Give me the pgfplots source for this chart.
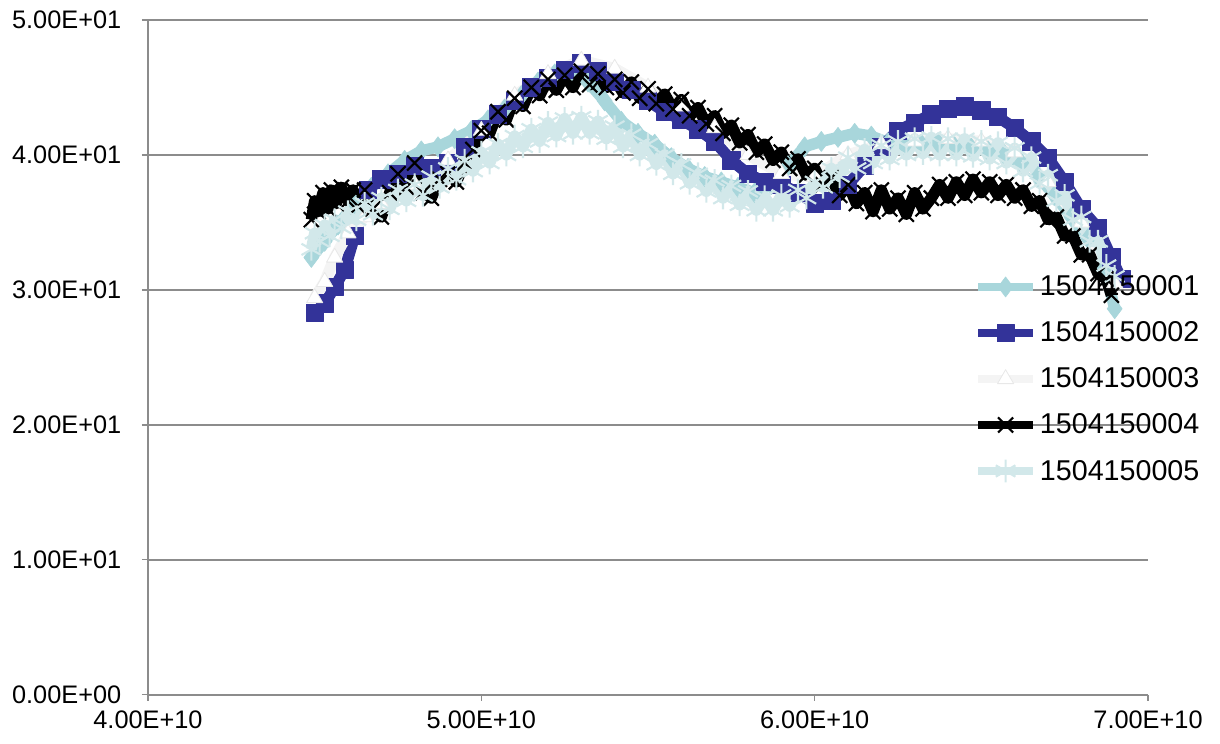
\documentclass[border=0pt]{standalone}
\usepackage{fontspec}
\setmainfont{Liberation Sans}
\usepackage{pgfplots}
\pgfplotsset{compat=1.18}

\definecolor{sone}{RGB}{168,214,219}
\definecolor{stwo}{RGB}{51,51,153}
\definecolor{sthree}{RGB}{244,244,244}
\definecolor{sfive}{RGB}{210,232,234}
\definecolor{gridgray}{RGB}{140,140,140}

\begin{document}
\begin{tikzpicture}
\begin{axis}[
    scale only axis,
    width=750pt, height=506pt,
    xmin=4e10, xmax=7e10, ymin=0, ymax=50,
    axis lines=left,
    axis line style={-, gridgray, line width=1.1pt},
    xtick={4e10,5e10,6e10,7e10},
    xticklabels={4.00E+10,5.00E+10,6.00E+10,7.00E+10},
    ytick={0,10,20,30,40,50},
    yticklabels={0.00E+00,1.00E+01,2.00E+01,3.00E+01,4.00E+01,5.00E+01},
    scaled ticks=false,
    tick align=outside,
    major tick length=4.5pt,
    tick style={gridgray, line width=1.1pt},
    ymajorgrids,
    major grid style={gridgray, line width=1.3pt},
    tick label style={font=\fontsize{19}{22}\selectfont},
    /pgf/number format/assume math mode=true,
    xticklabel style={yshift=-4pt},
    yticklabel style={xshift=-12pt},
    clip=false,
    legend cell align=left,
    legend style={draw=none, fill=none, at={(0.826,0.625)}, anchor=north west,
        font=\fontsize{21.5}{24}\selectfont, row sep=14pt, inner sep=0pt},
    legend image code/.code={\draw[line width=6pt, mark repeat=2, mark phase=2]
        plot coordinates {(0cm,0cm) (0.72cm,0cm) (1.45cm,0cm)};},
    every axis plot/.append style={line width=8.5pt, line join=round},
]
% room round the picture
\path (rel axis cs:0,0) -- ++(-111pt,-37pt);
\path (rel axis cs:1,1) -- ++(54pt,15pt);
% 1504150001
\addplot[sone, mark=diamond*, mark size=7.5pt,
    mark options={solid, fill=sone, draw=sone, line width=0.5pt}] coordinates {
(4.49e10,32.4) (4.53e10,33.6) (4.57e10,34.8) (4.62e10,36.4) (4.67e10,37.6)
(4.72e10,38.6) (4.77e10,39.6) (4.82e10,40.3) (4.87e10,40.6) (4.92e10,41.2)
(4.97e10,41.8) (5.02e10,42.6) (5.07e10,43.4) (5.12e10,44.4) (5.17e10,45.4)
(5.22e10,46.0) (5.27e10,46.2) (5.32e10,45.4) (5.37e10,44.0) (5.42e10,42.5)
(5.47e10,41.6) (5.52e10,40.8) (5.57e10,39.8) (5.62e10,39.0) (5.67e10,38.4)
(5.72e10,38.0) (5.77e10,37.6) (5.82e10,37.2) (5.87e10,37.8) (5.92e10,39.2)
(5.97e10,40.6) (6.02e10,41.0) (6.07e10,41.3) (6.12e10,41.6) (6.17e10,41.4)
(6.22e10,40.9) (6.27e10,40.7) (6.32e10,40.8) (6.37e10,40.9) (6.42e10,40.6)
(6.47e10,40.5) (6.52e10,40.3) (6.57e10,40.0) (6.62e10,39.4) (6.67e10,38.4)
(6.72e10,37.0) (6.77e10,35.4) (6.82e10,33.8) (6.87e10,31.6) (6.90e10,28.6)
};
\addlegendentry{1504150001}
% 1504150002
\addplot[stwo, mark=square*, mark size=6.5pt,
    mark options={solid, fill=stwo, draw=stwo, line width=0.5pt}] coordinates {
(4.50e10,28.3) (4.53e10,29.0) (4.56e10,30.2) (4.59e10,31.5) (4.62e10,34.0)
(4.66e10,37.4) (4.70e10,38.2) (4.75e10,38.6) (4.80e10,39.2) (4.85e10,39.0)
(4.90e10,39.4) (4.95e10,40.6) (5.00e10,41.9) (5.05e10,43.0) (5.10e10,44.0)
(5.15e10,45.0) (5.20e10,45.7) (5.25e10,46.3) (5.30e10,46.8) (5.35e10,46.2)
(5.40e10,45.4) (5.45e10,44.8) (5.50e10,44.0) (5.55e10,43.2) (5.60e10,42.6)
(5.65e10,41.9) (5.70e10,41.0) (5.75e10,39.6) (5.80e10,38.6) (5.85e10,38.0)
(5.90e10,37.8) (5.95e10,37.2) (6.00e10,36.4) (6.05e10,36.6) (6.10e10,37.8)
(6.15e10,39.2) (6.20e10,40.6) (6.25e10,41.8) (6.30e10,42.4) (6.35e10,43.0)
(6.40e10,43.4) (6.45e10,43.6) (6.50e10,43.3) (6.55e10,42.8) (6.60e10,42.0)
(6.65e10,41.0) (6.70e10,39.8) (6.75e10,38.0) (6.80e10,36.0) (6.85e10,34.6)
(6.89e10,32.4) (6.92e10,30.8)
};
\addlegendentry{1504150002}
% 1504150003
\addplot[sthree, mark=triangle*, mark size=7pt,
    mark options={solid, fill=white, draw=sthree!90!gray, line width=0.6pt}] coordinates {
(4.50e10,29.4) (4.53e10,30.6) (4.56e10,32.4) (4.60e10,34.2) (4.65e10,35.4)
(4.70e10,36.4) (4.80e10,37.8) (4.90e10,39.6) (5.00e10,41.8) (5.10e10,44.4)
(5.20e10,46.0) (5.30e10,47.0) (5.40e10,46.4) (5.50e10,45.0) (5.60e10,43.6)
(5.70e10,42.0) (5.80e10,40.0) (5.90e10,38.6) (6.00e10,38.4) (6.10e10,40.0)
(6.20e10,40.8) (6.30e10,41.0) (6.40e10,41.2) (6.50e10,41.0) (6.60e10,40.2)
(6.70e10,38.0) (6.80e10,35.0) (6.90e10,30.5)
};
\addlegendentry{1504150003}
% 1504150004
\addplot[black, mark=x, mark size=8pt,
    mark options={solid, black, line width=1.6pt}] coordinates {
(4.490e10,35.2) (4.500e10,36.6) (4.510e10,35.8) (4.525e10,37.2) (4.540e10,36.0)
(4.550e10,37.4) (4.565e10,36.4) (4.580e10,37.6) (4.600e10,36.6) (4.615e10,37.4)
(4.630e10,36.2) (4.650e10,37.4) (4.675e10,36.0) (4.700e10,35.4) (4.725e10,37.2)
(4.750e10,38.6) (4.775e10,37.6) (4.800e10,39.4) (4.825e10,37.2) (4.850e10,36.8)
(4.875e10,38.2) (4.900e10,38.6) (4.925e10,38.0) (4.950e10,39.4) (4.975e10,40.4)
(5.000e10,41.8) (5.025e10,41.6) (5.050e10,43.2) (5.075e10,42.6) (5.100e10,44.2)
(5.125e10,43.6) (5.150e10,45.0) (5.175e10,44.4) (5.200e10,45.6) (5.225e10,44.8)
(5.250e10,45.9) (5.275e10,45.0) (5.300e10,46.2) (5.325e10,45.2) (5.350e10,46.0)
(5.375e10,45.0) (5.400e10,45.6) (5.425e10,44.6) (5.450e10,45.4) (5.475e10,44.2)
(5.500e10,44.9) (5.525e10,43.8) (5.550e10,44.5) (5.575e10,43.4) (5.600e10,44.1)
(5.625e10,42.9) (5.650e10,43.5) (5.675e10,42.3) (5.700e10,42.9) (5.725e10,41.6)
(5.750e10,42.2) (5.775e10,40.9) (5.800e10,41.5) (5.825e10,40.2) (5.850e10,40.8)
(5.875e10,39.6) (5.900e10,40.2) (5.925e10,39.0) (5.950e10,39.7) (5.975e10,38.5)
(6.000e10,39.0) (6.025e10,37.8) (6.050e10,38.3) (6.075e10,37.0) (6.100e10,37.8)
(6.125e10,36.4) (6.150e10,37.2) (6.175e10,35.8) (6.200e10,37.4) (6.225e10,36.0)
(6.250e10,36.8) (6.275e10,35.6) (6.300e10,37.2) (6.325e10,36.0) (6.350e10,36.8)
(6.375e10,37.8) (6.400e10,36.8) (6.425e10,38.0) (6.450e10,37.0) (6.475e10,38.2)
(6.500e10,37.2) (6.525e10,38.0) (6.550e10,37.0) (6.575e10,37.8) (6.600e10,36.8)
(6.625e10,37.4) (6.650e10,36.2) (6.675e10,36.6) (6.700e10,35.2) (6.725e10,35.4)
(6.750e10,34.0) (6.775e10,34.0) (6.800e10,32.6) (6.825e10,32.6) (6.850e10,31.2)
(6.875e10,30.8) (6.890e10,29.6)
};
\addlegendentry{1504150004}
% 1504150005
\addplot[sfive, mark=asterisk, mark size=8.5pt,
    mark options={solid, sfive, line width=1.6pt}] coordinates {
(4.490e10,33.0) (4.500e10,34.2) (4.515e10,33.6) (4.530e10,34.8) (4.545e10,34.0)
(4.560e10,35.2) (4.580e10,34.6) (4.600e10,35.8) (4.625e10,35.2) (4.650e10,36.4)
(4.675e10,35.6) (4.700e10,36.8) (4.725e10,36.0) (4.750e10,37.4) (4.775e10,36.6)
(4.800e10,37.8) (4.825e10,37.0) (4.850e10,38.4) (4.875e10,37.6) (4.900e10,39.0)
(4.925e10,38.2) (4.950e10,39.6) (4.975e10,38.8) (5.000e10,40.2) (5.025e10,39.4)
(5.050e10,40.8) (5.075e10,40.0) (5.100e10,41.4) (5.125e10,40.6) (5.150e10,41.9)
(5.175e10,41.0) (5.200e10,42.4) (5.225e10,41.4) (5.250e10,42.7) (5.275e10,41.6)
(5.300e10,42.8) (5.325e10,41.6) (5.350e10,42.5) (5.375e10,41.2) (5.400e10,42.1)
(5.425e10,40.6) (5.450e10,41.5) (5.475e10,40.0) (5.500e10,40.8) (5.525e10,39.3)
(5.550e10,40.0) (5.575e10,38.6) (5.600e10,39.3) (5.625e10,37.9) (5.650e10,38.6)
(5.675e10,37.3) (5.700e10,38.1) (5.725e10,36.8) (5.750e10,37.7) (5.775e10,36.3)
(5.800e10,37.3) (5.825e10,35.9) (5.850e10,36.9) (5.875e10,35.9) (5.900e10,37.0)
(5.925e10,36.2) (5.950e10,37.4) (5.975e10,36.8) (6.000e10,38.0) (6.025e10,37.6)
(6.050e10,39.0) (6.075e10,38.4) (6.100e10,39.8) (6.125e10,39.0) (6.150e10,40.4)
(6.175e10,39.4) (6.200e10,40.7) (6.225e10,39.7) (6.250e10,41.0) (6.275e10,40.0)
(6.300e10,41.2) (6.325e10,40.1) (6.350e10,41.3) (6.375e10,40.0) (6.400e10,41.2)
(6.425e10,40.0) (6.450e10,41.2) (6.475e10,39.9) (6.500e10,41.0) (6.525e10,39.7)
(6.550e10,40.9) (6.575e10,39.4) (6.600e10,40.5) (6.625e10,38.8) (6.650e10,39.8)
(6.675e10,37.9) (6.700e10,38.5) (6.725e10,36.6) (6.750e10,37.0) (6.775e10,35.2)
(6.800e10,35.4) (6.825e10,33.6) (6.850e10,33.6) (6.875e10,31.8) (6.900e10,31.0)
};
\addlegendentry{1504150005}
\end{axis}
\end{tikzpicture}
\end{document}
